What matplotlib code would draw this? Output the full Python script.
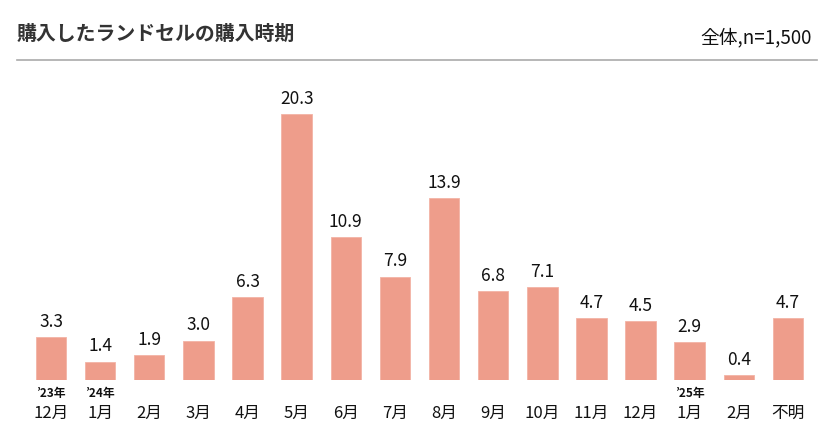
import matplotlib
matplotlib.use("Agg")
import matplotlib.pyplot as plt

plt.rcParams['font.family'] = ['Noto Sans CJK JP', 'DejaVu Sans']

# データ（％）
months = ['12月', '1月', '2月', '3月', '4月', '5月', '6月', '7月',
          '8月', '9月', '10月', '11月', '12月', '1月', '2月', '不明']
years = ['’23年', '’24年', '', '', '', '', '', '',
         '', '', '', '', '', '’25年', '', '']
values = [3.3, 1.4, 1.9, 3.0, 6.3, 20.3, 10.9, 7.9,
          13.9, 6.8, 7.1, 4.7, 4.5, 2.9, 0.4, 4.7]

W, H = 832, 444
fig = plt.figure(figsize=(W / 100, H / 100), dpi=100)
fig.patch.set_facecolor('white')

# 軸の位置（ピクセルから）
step = 49.13
x0, x1 = -0.7, 15.7
left_px = 51 - 0.7 * step
width_px = (x1 - x0) * step
base_px = 380
ymax = 22
height_px = ymax * 13.1
ax = fig.add_axes([left_px / W, (H - base_px) / H, width_px / W, height_px / H])

x = list(range(len(values)))
ax.bar(x, values, width=0.62, color='#EE9D8B', edgecolor='#F3B3A5', linewidth=0.6)
ax.set_xlim(x0, x1)
ax.set_ylim(0, ymax)
ax.axis('off')

for i, v in enumerate(values):
    ax.annotate(f'{v:.1f}', xy=(i, v), xytext=(0, 4.5), textcoords='offset points',
                ha='center', va='bottom', fontsize=12.5, color='#111111',
                annotation_clip=False)
    ax.annotate(months[i], xy=(i, 0), xytext=(0, -23.8), textcoords='offset points',
                ha='center', va='center', fontsize=12, color='#111111',
                annotation_clip=False)
    if years[i]:
        ax.annotate(years[i], xy=(i, 0), xytext=(0, -9.5), textcoords='offset points',
                    ha='center', va='center', fontsize=8.5, fontweight='bold',
                    color='#111111', annotation_clip=False)

# タイトルと注記
fig.text(17 / W, 1 - 33 / H, '購入したランドセルの購入時期', ha='left', va='center',
         fontsize=14.3, fontweight='bold', color='#333333')
fig.text(812 / W, 1 - 38 / H, '全体,n=1,500', ha='right', va='center',
         fontsize=13.5, color='#111111')
fig.add_artist(plt.Line2D([17 / W, 817 / W], [1 - 60 / H, 1 - 60 / H],
                          color='#AAAAAA', linewidth=1.2))

fig.savefig('out.png', dpi=100)
